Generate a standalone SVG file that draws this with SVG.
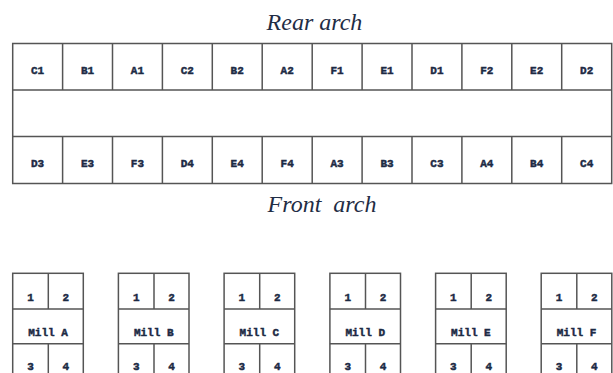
<svg xmlns="http://www.w3.org/2000/svg" width="613" height="373" viewBox="0 0 613 373">
  <style>
    .ln { fill: none; stroke: #555; stroke-width: 1.5; }
    .cell { font-family: "Liberation Mono", "DejaVu Sans Mono", monospace; font-weight: bold; font-size: 11px; fill: #1c2a44; stroke: #1c2a44; stroke-width: 0.45; text-anchor: middle; }
    .title { font-family: "Liberation Serif", "Times New Roman", serif; font-style: italic; font-size: 24px; fill: #1f2d45; text-anchor: middle; }
  </style>
  <rect width="613" height="373" fill="#fff"/>

  <!-- Titles -->
  <text class="title" x="314.5" y="30">Rear arch</text>
  <text class="title" x="322" y="212" xml:space="preserve">Front  arch</text>

  <!-- Furnace burner layout -->
  <g id="furnace">
    <rect class="ln" x="12.7" y="43.5" width="599" height="140"/>
    <line class="ln" x1="12.7" y1="90" x2="611.7" y2="90"/>
    <line class="ln" x1="12.7" y1="136.5" x2="611.7" y2="136.5"/>
    <path class="ln" d="M62.6 43.5V90M112.5 43.5V90M162.4 43.5V90M212.3 43.5V90M262.2 43.5V90M312.2 43.5V90M362.1 43.5V90M412 43.5V90M461.9 43.5V90M511.8 43.5V90M561.7 43.5V90"/>
    <path class="ln" d="M62.6 136.5V183.5M112.5 136.5V183.5M162.4 136.5V183.5M212.3 136.5V183.5M262.2 136.5V183.5M312.2 136.5V183.5M362.1 136.5V183.5M412 136.5V183.5M461.9 136.5V183.5M511.8 136.5V183.5M561.7 136.5V183.5"/>
    <g class="cell">
      <text x="37.6" y="74">C1</text><text x="87.5" y="74">B1</text><text x="137.4" y="74">A1</text>
      <text x="187.3" y="74">C2</text><text x="237.2" y="74">B2</text><text x="287.2" y="74">A2</text>
      <text x="337.1" y="74">F1</text><text x="387" y="74">E1</text><text x="436.9" y="74">D1</text>
      <text x="486.8" y="74">F2</text><text x="536.7" y="74">E2</text><text x="586.7" y="74">D2</text>
      <text x="37.6" y="167">D3</text><text x="87.5" y="167">E3</text><text x="137.4" y="167">F3</text>
      <text x="187.3" y="167">D4</text><text x="237.2" y="167">E4</text><text x="287.2" y="167">F4</text>
      <text x="337.1" y="167">A3</text><text x="387" y="167">B3</text><text x="436.9" y="167">C3</text>
      <text x="486.8" y="167">A4</text><text x="536.7" y="167">B4</text><text x="586.7" y="167">C4</text>
    </g>
  </g>

  <!-- Mill blocks -->
  <defs>
    <g id="millShape">
      <rect class="ln" x="0" y="0" width="70.6" height="110"/>
      <line class="ln" x1="0" y1="35.7" x2="70.6" y2="35.7"/>
      <line class="ln" x1="0" y1="70.5" x2="70.6" y2="70.5"/>
      <line class="ln" x1="35.6" y1="0" x2="35.6" y2="35.7"/>
      <line class="ln" x1="35.6" y1="70.5" x2="35.6" y2="110"/>
      <g class="cell">
        <text x="17.8" y="27.5">1</text>
        <text x="53.2" y="27.5">2</text>
        <text x="17.8" y="97">3</text>
        <text x="53.2" y="97">4</text>
      </g>
    </g>
  </defs>
  <g id="millA" transform="translate(12.7 273.3)"><use href="#millShape"/><text class="cell" x="35.3" y="62.5">Mill A</text></g>
  <g id="millB" transform="translate(118.4 273.3)"><use href="#millShape"/><text class="cell" x="35.3" y="62.5">Mill B</text></g>
  <g id="millC" transform="translate(224.1 273.3)"><use href="#millShape"/><text class="cell" x="35.3" y="62.5">Mill C</text></g>
  <g id="millD" transform="translate(329.9 273.3)"><use href="#millShape"/><text class="cell" x="35.3" y="62.5">Mill D</text></g>
  <g id="millE" transform="translate(435.6 273.3)"><use href="#millShape"/><text class="cell" x="35.3" y="62.5">Mill E</text></g>
  <g id="millF" transform="translate(541.2 273.3)"><use href="#millShape"/><text class="cell" x="35.3" y="62.5">Mill F</text></g>
</svg>
